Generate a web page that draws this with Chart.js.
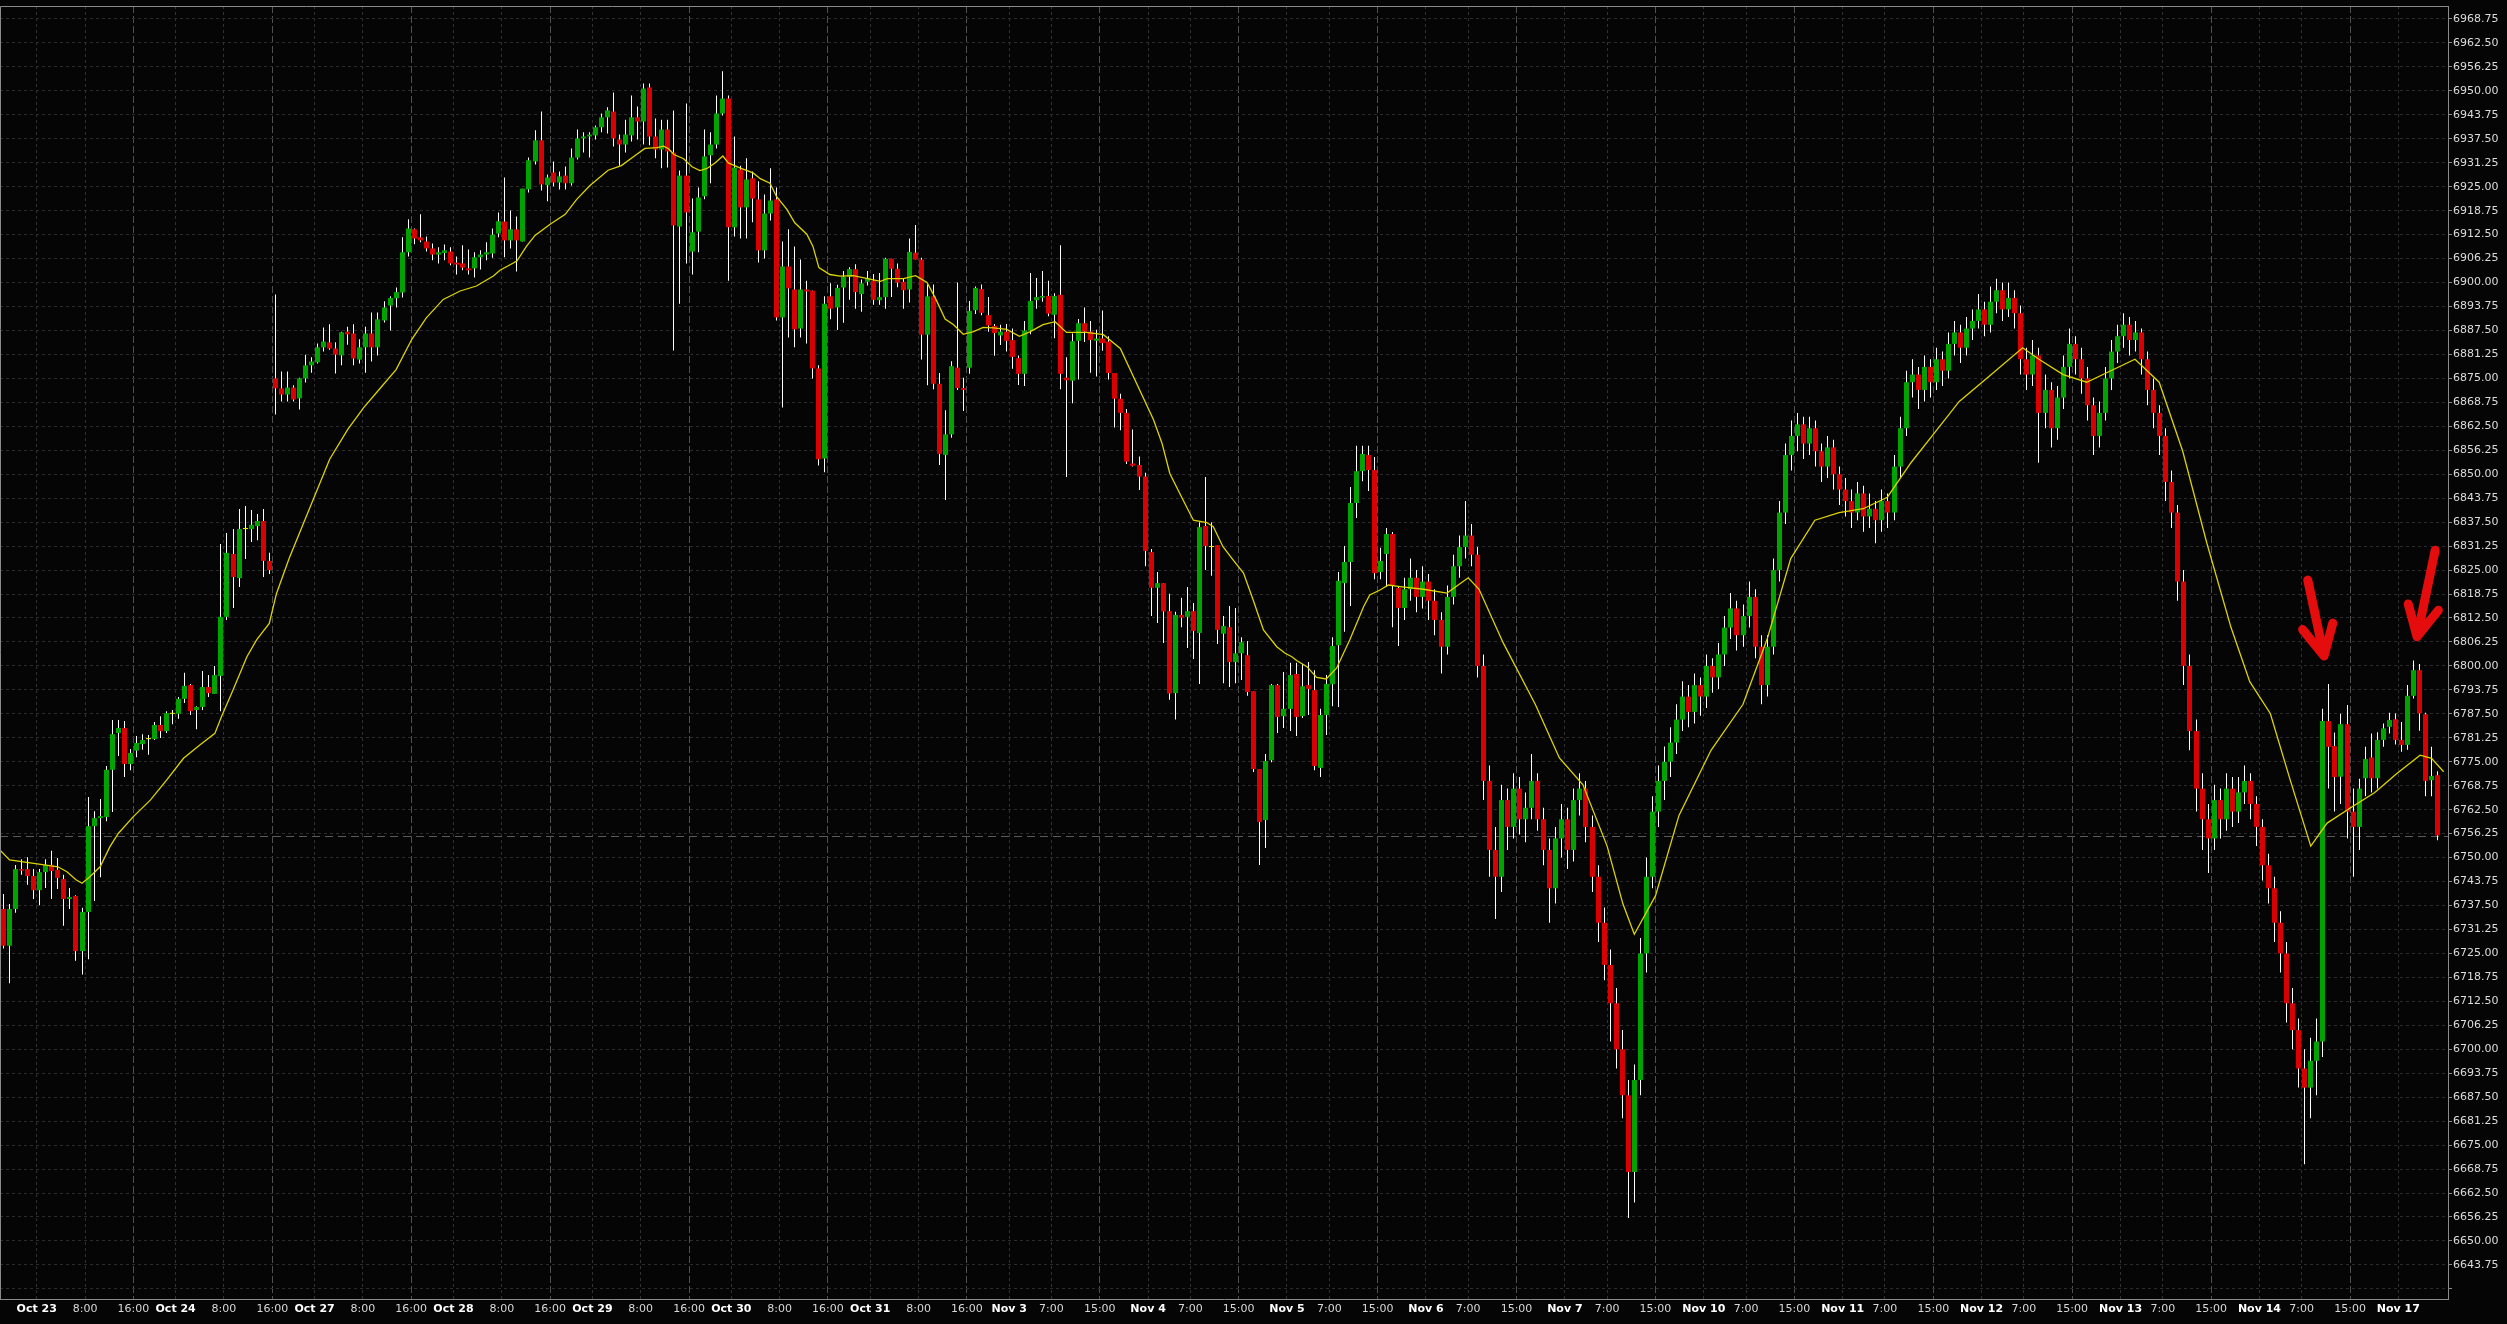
<!DOCTYPE html>
<html><head><meta charset="utf-8">
<script src="https://cdn.jsdelivr.net/npm/chart.js@4.4.1/dist/chart.umd.min.js"></script>
<style>html,body{margin:0;padding:0;background:#050505;overflow:hidden}canvas{display:block}</style>
</head><body>
<canvas id="c" width="2507" height="1324"></canvas>
<script>
const opens = [6736.6,6727.0,6736.6,6747.0,6747.0,6745.2,6741.5,6746.2,6748.1,6746.8,6744.4,6739.2,6740.0,6725.6,6735.8,6758.2,6760.3,6760.6,6772.9,6782.5,
6783.8,6774.4,6777.9,6779.6,6780.9,6780.9,6784.6,6783.0,6787.5,6787.5,6791.4,6795.0,6788.5,6789.3,6794.5,6792.7,6797.4,6812.8,6829.2,6822.9,
6835.7,6835.7,6836.5,6837.8,6827.4,6875.0,6872.4,6870.8,6872.6,6869.8,6875.0,6878.4,6879.2,6883.1,6884.4,6882.8,6881.0,6887.2,6886.7,6879.9,
6883.1,6886.7,6883.1,6890.1,6894.0,6895.9,6897.4,6907.9,6913.9,6911.8,6910.7,6908.9,6907.3,6907.7,6908.1,6905.2,6905.0,6903.7,6903.7,6906.6,
6907.3,6907.6,6912.8,6915.9,6911.0,6913.9,6910.7,6924.3,6931.6,6937.1,6925.4,6928.7,6926.1,6927.9,6925.9,6932.6,6937.6,6938.1,6938.4,6940.5,
6943.1,6944.6,6937.3,6936.0,6938.4,6943.1,6942.0,6950.9,6938.1,6934.7,6939.9,6933.9,6914.6,6927.9,6908.1,6913.3,6922.5,6933.2,6936.0,6944.1,
6948.0,6914.4,6929.5,6919.6,6927.2,6921.7,6908.4,6918.0,6921.7,6890.9,6904.2,6898.2,6888.0,6898.2,6897.9,6877.6,6854.1,6896.4,6893.5,6898.7,
6901.5,6903.5,6897.0,6900.2,6900.5,6895.4,6896.2,6906.2,6903.6,6900.2,6898.2,6907.8,6906.0,6886.4,6896.4,6873.6,6855.0,6860.4,6877.8,6872.5,
6877.8,6892.8,6898.3,6891.5,6888.7,6886.2,6887.2,6885.0,6880.3,6876.2,6887.5,6895.4,6896.1,6896.5,6891.6,6896.8,6875.2,6874.4,6884.8,6889.4,
6887.2,6884.8,6885.4,6884.6,6876.4,6869.7,6866.0,6852.8,6852.4,6849.4,6829.7,6820.4,6821.6,6814.3,6792.9,6813.3,6812.8,6814.3,6808.6,6836.5,
6831.0,6831.5,6808.4,6810.1,6801.0,6803.3,6802.8,6793.4,6773.1,6759.8,6775.4,6795.0,6786.9,6788.8,6797.9,6786.9,6795.0,6793.7,6773.4,6787.2,
6795.2,6805.4,6821.6,6827.1,6842.5,6850.8,6855.0,6851.1,6824.5,6829.2,6834.4,
6820.3,6815.1,6820.0,6823.0,6818.0,6822.0,6817.0,6812.0,6805.0,6818.0,
6826.0,6831.0,6834.0,6829.0,6800.0,6770.0,6752.0,6745.0,6765.0,6758.0,
6768.0,6760.0,6763.0,6770.0,6760.0,6752.0,6742.0,6755.0,6760.0,6752.0,
6765.0,6768.0,6758.0,6745.0,6733.0,6722.0,6712.0,6700.0,6688.0,6668.0,
6692.0,6725.0,6745.0,6762.0,6770.0,6775.0,6780.0,6786.0,6792.0,6788.0,
6795.0,6792.0,6800.0,6797.0,6803.0,6810.0,6815.0,6808.0,6813.0,6818.0,
6805.0,6795.0,6805.0,6825.0,6840.0,6855.0,6860.0,6863.0,6858.0,6862.0,
6856.0,6852.0,6857.0,6850.0,6846.0,6843.0,6840.0,6845.0,6839.0,6841.0,
6838.0,6843.0,6840.0,6852.0,6862.0,6874.0,6876.0,6872.0,6878.0,6874.0,
6880.0,6877.0,6884.0,6887.0,6883.0,6888.0,6890.0,6893.0,6889.0,6895.0,
6898.0,6893.0,6896.0,6892.0,6880.0,6876.0,6881.0,6866.0,6872.0,6862.0,
6870.0,6878.0,6884.0,6880.0,6875.0,6868.0,6860.0,6866.0,6875.0,6882.0,
6886.0,6889.0,6885.0,6887.0,6880.0,6872.0,6866.0,6860.0,6848.0,6840.0,
6822.0,6800.0,6783.0,6768.0,6760.0,6755.0,6765.0,6760.0,6768.0,6762.0,
6767.0,6770.0,6764.0,6758.0,6748.0,6742.0,6733.0,6725.0,6712.0,6705.0,
6695.0,6690.0,6697.0,6702.0,6785.6,6779.1,6771.1,6784.8,6762.0,6758.0,
6770.7,6776.1,6770.7,6780.7,6784.1,6786.1,6780.7,6779.4,6792.2,6798.9,
6787.4,6770.2,6771.5];
const highs = [6740.5,6737.9,6748.1,6749.6,6750.1,6747.0,6747.0,6749.6,6751.8,6749.9,6745.5,6742.1,6740.2,6736.9,6765.8,6762.1,6765.3,6773.9,6785.9,6785.9,
6785.6,6778.3,6781.7,6782.2,6782.0,6785.4,6786.9,6788.2,6788.5,6791.9,6798.2,6795.3,6789.5,6798.7,6797.6,6800.0,6831.8,6834.7,6835.7,6840.9,
6841.7,6840.7,6839.6,6840.9,6829.5,6896.9,6876.8,6876.8,6873.2,6875.2,6881.2,6880.5,6884.1,6888.3,6889.1,6884.4,6887.2,6888.5,6889.1,6885.2,
6888.5,6892.2,6892.2,6895.1,6896.4,6898.7,6911.8,6916.5,6914.1,6917.8,6912.0,6910.2,6909.2,6909.9,6909.2,6906.8,6909.7,6908.6,6907.9,6908.4,
6910.5,6914.1,6918.3,6927.4,6918.8,6917.2,6924.5,6932.6,6939.7,6944.6,6928.2,6931.6,6929.0,6930.3,6935.0,6939.9,6939.2,6939.2,6941.0,6944.1,
6945.7,6949.6,6938.6,6942.5,6948.8,6945.9,6951.9,6951.9,6942.8,6942.5,6942.5,6944.9,6929.2,6946.7,6921.9,6924.8,6939.9,6939.2,6948.8,6955.1,
6948.8,6938.1,6930.5,6932.4,6929.0,6926.4,6923.0,6929.8,6924.8,6910.7,6913.9,6909.4,6906.0,6900.5,6897.9,6878.4,6896.4,6899.8,6899.4,6903.0,
6904.0,6904.8,6900.8,6903.0,6902.2,6902.5,6906.5,6906.2,6905.0,6901.0,6911.5,6915.0,6906.5,6899.5,6899.5,6876.4,6866.7,6879.5,6900.0,6875.2,
6895.2,6899.0,6899.5,6896.2,6889.2,6889.0,6889.2,6888.0,6881.0,6890.0,6902.5,6901.2,6903.0,6900.5,6897.2,6909.7,6880.5,6886.7,6890.5,6893.5,
6890.0,6887.7,6892.7,6886.0,6876.4,6871.0,6867.0,6861.7,6854.6,6850.4,6830.5,6824.5,6821.6,6818.8,6814.1,6817.8,6820.6,6816.4,6837.5,6849.3,
6837.5,6831.5,6813.0,6815.6,6815.1,6807.5,6806.5,6793.4,6773.1,6777.0,6795.3,6795.3,6798.4,6800.8,6800.8,6800.5,6801.0,6798.9,6788.8,6797.6,
6807.5,6824.5,6831.3,6846.7,6857.4,6857.4,6857.4,6854.5,6830.8,6836.0,6834.9,
6820.6,6823.0,6828.0,6825.0,6826.0,6824.0,6820.0,6814.0,6821.0,6829.0,
6834.0,6843.0,6837.0,6831.0,6803.0,6774.0,6758.0,6769.0,6768.0,6772.0,
6771.0,6767.0,6777.0,6772.0,6763.0,6755.0,6758.0,6764.0,6763.0,6768.0,
6772.0,6770.0,6761.0,6748.0,6737.0,6726.0,6716.0,6705.0,6692.0,6696.0,
6729.0,6750.0,6766.0,6774.0,6779.0,6784.0,6790.0,6796.0,6795.0,6798.0,
6797.0,6803.0,6802.0,6806.0,6813.0,6819.0,6817.0,6816.0,6822.0,6820.0,
6808.0,6808.0,6828.0,6843.0,6858.0,6864.0,6866.0,6865.0,6865.0,6864.0,
6858.0,6860.0,6859.0,6852.0,6849.0,6846.0,6848.0,6847.0,6845.0,6843.0,
6846.0,6845.0,6855.0,6865.0,6877.0,6880.0,6878.0,6881.0,6880.0,6883.0,
6882.0,6887.0,6890.0,6889.0,6891.0,6893.0,6897.0,6895.0,6899.0,6901.0,
6900.0,6900.0,6898.0,6894.0,6883.0,6885.0,6883.0,6876.0,6874.0,6873.0,
6881.0,6888.0,6886.0,6883.0,6878.0,6870.0,6869.0,6878.0,6885.0,6889.0,
6892.0,6891.0,6890.0,6888.0,6882.0,6875.0,6868.0,6862.0,6851.0,6842.0,
6825.0,6803.0,6786.0,6772.0,6764.0,6769.0,6768.0,6772.0,6771.0,6771.0,
6774.0,6772.0,6766.0,6760.0,6751.0,6745.0,6736.0,6728.0,6716.0,6708.0,
6700.0,6703.0,6708.0,6788.8,6795.3,6782.6,6787.5,6789.8,6768.0,6770.6,
6778.9,6782.4,6782.7,6785.0,6787.8,6787.6,6785.4,6795.0,6801.4,6800.5,
6787.8,6778.9,6772.5];
const lows = [6726.3,6717.2,6735.6,6745.5,6742.9,6739.2,6737.6,6742.1,6739.2,6741.8,6732.2,6736.6,6723.1,6719.5,6723.5,6738.7,6744.9,6759.5,6761.9,6776.5,
6771.0,6772.8,6776.2,6778.1,6776.8,6780.7,6781.2,6782.5,6784.8,6786.2,6790.3,6787.2,6783.5,6788.5,6791.9,6792.7,6788.2,6812.0,6815.1,6820.6,
6827.9,6832.3,6832.8,6823.2,6824.0,6865.6,6869.0,6869.0,6869.0,6866.9,6873.9,6876.5,6878.9,6882.0,6882.5,6876.3,6878.4,6883.8,6878.4,6878.9,
6876.5,6879.4,6881.0,6889.6,6887.5,6893.5,6896.1,6906.8,6910.0,6910.5,6908.1,6905.8,6905.0,6905.8,6904.5,6902.1,6903.2,6902.1,6901.3,6903.4,
6905.8,6906.5,6911.8,6906.6,6908.9,6902.9,6910.7,6923.5,6930.8,6924.0,6921.2,6925.1,6924.3,6924.3,6925.3,6932.1,6933.9,6932.6,6937.3,6939.2,
6938.9,6935.5,6930.5,6933.9,6936.8,6937.3,6936.0,6935.8,6932.4,6929.8,6930.0,6882.3,6894.5,6905.0,6902.1,6907.9,6921.7,6925.9,6935.0,6943.6,
6900.5,6912.0,6911.5,6911.5,6915.7,6905.2,6906.3,6916.2,6890.1,6867.4,6885.7,6883.1,6885.7,6884.1,6875.0,6852.3,6850.5,6890.4,6887.6,6889.5,
6895.5,6893.2,6892.4,6899.2,6894.2,6894.2,6893.2,6896.2,6898.8,6893.2,6894.8,6906.0,6879.9,6873.2,6872.2,6852.4,6843.3,6859.5,6872.0,6866.5,
6876.2,6891.8,6891.5,6887.2,6880.9,6883.7,6882.0,6877.5,6873.3,6873.0,6886.5,6893.2,6895.0,6891.2,6885.5,6872.2,6849.3,6868.5,6874.7,6884.5,
6876.5,6875.5,6882.2,6874.7,6862.2,6861.5,6852.7,6852.0,6845.9,6826.0,6813.0,6811.2,6806.0,6791.2,6786.0,6810.1,6804.7,6801.8,6795.3,6825.0,
6823.5,6805.7,6795.5,6794.5,6795.5,6796.3,6792.2,6772.3,6748.1,6752.5,6774.9,6782.5,6783.8,6783.0,6781.7,6786.4,6787.2,6772.8,6771.0,6782.0,
6789.5,6789.3,6808.9,6815.6,6838.6,6848.2,6845.6,6822.6,6822.6,6820.6,6810.1,
6805.2,6812.0,6817.0,6814.0,6815.0,6812.0,6808.0,6798.0,6803.0,6816.0,
6823.0,6828.0,6826.0,6797.0,6765.0,6745.0,6734.0,6741.0,6752.0,6755.0,
6756.0,6754.0,6760.0,6757.0,6748.0,6733.0,6738.0,6750.0,6747.0,6749.0,
6761.0,6754.0,6741.0,6728.0,6718.0,6702.0,6695.0,6682.0,6656.0,6660.0,
6688.0,6720.0,6742.0,6758.0,6765.0,6771.0,6777.0,6783.0,6784.0,6785.0,
6787.0,6789.0,6793.0,6794.0,6800.0,6807.0,6804.0,6805.0,6810.0,6802.0,
6790.0,6792.0,6803.0,6822.0,6837.0,6851.0,6856.0,6854.0,6855.0,6852.0,
6848.0,6849.0,6846.0,6842.0,6839.0,6836.0,6838.0,6835.0,6836.0,6832.0,
6835.0,6836.0,6838.0,6849.0,6860.0,6870.0,6867.0,6869.0,6870.0,6872.0,
6873.0,6875.0,6881.0,6879.0,6881.0,6885.0,6888.0,6886.0,6887.0,6892.0,
6890.0,6891.0,6888.0,6876.0,6872.0,6873.0,6853.0,6862.0,6857.0,6859.0,
6867.0,6875.0,6876.0,6871.0,6864.0,6855.0,6857.0,6864.0,6872.0,6879.0,
6883.0,6881.0,6882.0,6876.0,6868.0,6862.0,6855.0,6843.0,6836.0,6817.0,
6795.0,6778.0,6762.0,6752.0,6746.0,6752.0,6755.0,6757.0,6758.0,6759.0,
6764.0,6760.0,6753.0,6744.0,6738.0,6728.0,6720.0,6707.0,6700.0,6690.0,
6670.0,6682.0,6688.0,6698.0,6768.0,6762.0,6764.0,6755.0,6745.0,6752.0,
6766.0,6767.0,6768.0,6778.9,6782.4,6779.5,6777.6,6778.1,6791.5,6783.1,
6766.0,6766.0,6754.5];
const closes = [6727.0,6736.6,6747.0,6746.6,6745.2,6741.5,6746.2,6748.1,6746.5,6744.7,6739.2,6739.7,6725.6,6735.8,6758.2,6760.3,6760.8,6772.9,6782.2,6783.8,
6774.4,6777.3,6779.9,6780.7,6780.9,6784.6,6783.0,6787.7,6787.5,6791.4,6794.8,6788.2,6789.3,6794.5,6792.9,6797.6,6812.8,6829.5,6823.2,6835.7,
6835.7,6836.8,6837.8,6827.4,6825.0,6872.4,6870.8,6872.6,6869.5,6875.0,6878.4,6879.4,6883.1,6884.6,6882.8,6881.2,6887.0,6886.5,6880.2,6883.1,
6886.7,6883.1,6890.4,6893.5,6896.0,6897.5,6907.9,6914.1,6911.5,6911.0,6908.9,6907.3,6907.9,6908.4,6905.0,6904.7,6903.9,6903.2,6906.6,6907.3,
6907.9,6912.5,6916.0,6911.0,6913.9,6911.0,6924.5,6931.9,6937.1,6925.6,6927.4,6926.1,6927.7,6925.9,6932.6,6937.6,6938.1,6938.6,6940.5,6943.1,
6944.9,6937.6,6936.0,6938.6,6943.1,6942.0,6950.6,6938.1,6934.7,6939.9,6934.2,6914.9,6927.9,6918.3,6913.1,6922.2,6932.9,6936.0,6944.1,6948.0,
6914.4,6930.0,6919.6,6926.9,6921.9,6908.4,6918.0,6921.4,6890.9,6904.2,6898.5,6887.8,6898.2,6897.7,6877.6,6853.9,6894.5,6893.2,6898.6,6901.5,
6903.5,6897.5,6899.8,6901.2,6895.5,6896.2,6906.2,6903.6,6900.0,6898.0,6908.0,6906.0,6886.4,6896.4,6873.6,6855.3,6860.4,6878.2,6872.5,6872.0,
6892.6,6898.6,6892.1,6888.8,6886.8,6887.2,6884.8,6880.6,6876.2,6887.5,6895.2,6896.2,6896.5,6891.9,6896.5,6876.2,6874.5,6884.7,6889.4,6887.2,
6885.0,6885.4,6884.2,6876.4,6869.7,6866.0,6853.3,6852.2,6849.4,6830.0,6820.4,6821.6,6814.2,6792.8,6813.3,6812.6,6814.3,6809.1,6836.2,6831.3,
6831.0,6809.4,6810.4,6801.0,6803.3,6806.2,6793.2,6773.1,6759.3,6775.2,6795.0,6786.7,6788.8,6797.6,6786.7,6794.7,6794.0,6773.9,6787.2,6795.3,
6805.2,6822.2,6827.1,6842.5,6850.8,6855.3,6851.1,6824.2,6827.4,6834.4,6821.1,
6815.1,6820.0,6823.0,6818.0,6822.0,6817.0,6812.0,6805.0,6818.0,6826.0,
6831.0,6834.0,6829.0,6800.0,6770.0,6752.0,6745.0,6765.0,6758.0,6768.0,
6760.0,6763.0,6770.0,6760.0,6752.0,6742.0,6755.0,6760.0,6752.0,6765.0,
6768.0,6758.0,6745.0,6733.0,6722.0,6712.0,6700.0,6688.0,6668.0,6692.0,
6725.0,6745.0,6762.0,6770.0,6775.0,6780.0,6786.0,6792.0,6788.0,6795.0,
6792.0,6800.0,6797.0,6803.0,6810.0,6815.0,6808.0,6813.0,6818.0,6805.0,
6795.0,6805.0,6825.0,6840.0,6855.0,6860.0,6863.0,6858.0,6862.0,6856.0,
6852.0,6857.0,6850.0,6846.0,6843.0,6840.0,6845.0,6839.0,6841.0,6838.0,
6843.0,6840.0,6852.0,6862.0,6874.0,6876.0,6872.0,6878.0,6874.0,6880.0,
6877.0,6884.0,6887.0,6883.0,6888.0,6890.0,6893.0,6889.0,6895.0,6898.0,
6893.0,6896.0,6892.0,6880.0,6876.0,6881.0,6866.0,6872.0,6862.0,6870.0,
6878.0,6884.0,6880.0,6875.0,6868.0,6860.0,6866.0,6875.0,6882.0,6886.0,
6889.0,6885.0,6887.0,6880.0,6872.0,6866.0,6860.0,6848.0,6840.0,6822.0,
6800.0,6783.0,6768.0,6760.0,6755.0,6765.0,6760.0,6768.0,6762.0,6767.0,
6770.0,6764.0,6758.0,6748.0,6742.0,6733.0,6725.0,6712.0,6705.0,6695.0,
6690.0,6697.0,6702.0,6785.6,6778.9,6771.0,6784.8,6762.0,6758.0,6768.0,
6775.7,6770.7,6780.7,6783.7,6785.9,6780.7,6779.4,6792.2,6798.9,6787.6,
6770.0,6771.3,6755.8];

const maBars = [-0.6,1,5,9,10.5,12,13,14.3,16,17.6,19,21.5,24.3,27,29.8,32.5,35,36.1,38,40.3,41.9,44,45.2,47.3,54,57,59.6,62.4,65,67.6,70,72.8,75.6,78.3,81.1,82.2,85,86.6,88,90.5,93,94.9,97.1,100.1,102.3,104.8,106.2,108.2,109.3,110.1,111,112.6,114,115.3,116.4,117.8,119.1,120,121.9,124.1,125.3,126.9,128,129.7,131,133,134,135,136.8,138.5,140.7,145.2,146.3,149,151,152.9,154.2,155.9,157.3,158.9,160.6,162.2,163.9,166.1,168.2,170,172.1,174.1,176,179.3,182.1,184.9,190.4,191.8,193.1,195,197,199.2,200.3,201.9,203.6,205.3,206.9,208.6,210.8,212.2,213.3,214.1,215.8,217.4,219,220.7,222.9,225.2,226.2,227.9,229.3,231.2,
235.1,239.0,242.5,244.3,248.3,253.6,257.6,261.5,265.5,268.1,270.0,273.5,277.4,282.7,288.0,292.0,295.9,299.9,303.9,307.9,311.9,315.8,319.8,323.8,329.1,334.3,337.0,341.0,344.9,348.9,352.9,356.9,360.8,364.8,368.8,371.9,375.3,378.6,382.0,384.7,388.6,392.6,396.2,400.1,402.0,404.0];
const maValues = [6752.0,6749.4,6748.5,6747.6,6746.3,6744.2,6743.3,6745.0,6747.6,6752.8,6756.3,6760.7,6765.0,6770.2,6775.9,6779.4,6782.4,6786.8,6793.7,6802.4,6806.8,6811.1,6818.9,6828.1,6853.9,6861.7,6867.3,6872.5,6877.3,6885.2,6890.8,6895.6,6897.8,6899.1,6901.7,6903.2,6905.6,6909.5,6912.3,6915.2,6917.8,6921.7,6925.3,6929.3,6930.5,6933.4,6935.0,6935.2,6935.6,6934.9,6933.4,6932.3,6930.2,6929.2,6929.7,6931.2,6933.0,6931.2,6929.9,6928.6,6927.1,6925.9,6922.4,6919.1,6915.6,6912.6,6909.5,6903.9,6902.1,6901.7,6901.8,6900.3,6901.0,6901.0,6901.8,6900.0,6896.2,6890.5,6889.0,6886.5,6887.2,6888.3,6888.2,6887.8,6886.0,6887.2,6889.0,6889.8,6887.0,6887.0,6886.4,6882.8,6864.2,6858.1,6850.2,6844.2,6838.0,6837.4,6836.3,6831.1,6827.6,6824.2,6817.2,6809.4,6805.0,6803.3,6802.4,6801.4,6799.8,6797.0,6796.6,6799.4,6806.8,6815.5,6818.5,6819.8,6821.1,6820.7,
6820.0,6819.0,6823.0,6820.0,6806.0,6790.0,6776.0,6769.0,6753.0,6738.0,6730.0,6740.0,6761.0,6778.0,6790.0,6807.0,6828.0,6838.0,6840.0,6841.0,6844.0,6853.0,6861.0,6869.0,6876.0,6883.0,6880.0,6876.0,6874.0,6877.0,6880.0,6874.0,6856.0,6832.0,6810.0,6795.9,6787.6,6770.2,6753.0,6759.0,6763.0,6767.0,6771.9,6776.7,6775.9,6772.4];

const lastPrice = 6755.5;
const xTickBars = [6,14,22,29,37,45,52,60,68,75,83,91,98,106,114,121,129,137,144,152,160,167,174,182,190,197,205,213,220,228,236,243,251,259,266,274,282,289,297,305,312,320,328,335,343,351,358,366,374,381,389,397];
const xTickLabels = ['Oct 23','8:00','16:00','Oct 24','8:00','16:00','Oct 27','8:00','16:00','Oct 28','8:00','16:00','Oct 29','8:00','16:00','Oct 30','8:00','16:00','Oct 31','8:00','16:00','Nov 3','7:00','15:00','Nov 4','7:00','15:00','Nov 5','7:00','15:00','Nov 6','7:00','15:00','Nov 7','7:00','15:00','Nov 10','7:00','15:00','Nov 11','7:00','15:00','Nov 12','7:00','15:00','Nov 13','7:00','15:00','Nov 14','7:00','15:00','Nov 17'];
const arrowTails = [[381.5, 6822.4],[402.6, 6830.2]];
const arrowTips = [[384.2, 6802.6],[399.6, 6807.6]];

const X_MIN = -0.58, X_MAX = 404.72, Y_MIN = 6634.86, Y_MAX = 6972.14;
const GREEN = '#00a300', RED = '#d80000', DOJI = '#f0f000';

const bodyData = opens.map((o, i) => ({x: i, y: [o, closes[i]]}));
const bodyColors = opens.map((o, i) => closes[i] > o ? GREEN : (closes[i] < o ? RED : DOJI));
const wickData = lows.map((l, i) => ({x: i, y: [l, highs[i]]}));
const maData = maBars.map((b, i) => ({x: b, y: maValues[i]}));

const isDate = l => /[A-Za-z]/.test(l);
const isSession = l => l === '16:00' || l === '15:00';

const framePlugin = {
  id: 'frame',
  beforeDraw(chart) {
    const {ctx, width, height} = chart;
    ctx.save(); ctx.fillStyle = '#050505'; ctx.fillRect(0, 0, width, height); ctx.restore();
  },
  afterDraw(chart) {
    const {ctx, chartArea: a} = chart;
    ctx.save();
    ctx.strokeStyle = '#8a8a8a'; ctx.lineWidth = 1;
    ctx.beginPath();
    ctx.moveTo(a.left + 0.5, a.bottom); ctx.lineTo(a.left + 0.5, a.top + 0.5); ctx.lineTo(a.right, a.top + 0.5);
    ctx.stroke();
    ctx.restore();
  }
};

// snap candle bodies and wicks to whole device pixels so they render crisp
const snapPlugin = {
  id: 'snap',
  afterDatasetsUpdate(chart) {
    [1, 2].forEach(di => {
      chart.getDatasetMeta(di).data.forEach(el => { el.x = Math.round(el.x - 0.5) + 0.5; });
    });
  }
};

const arrowPlugin = {
  id: 'arrows',
  afterDraw(chart) {
    const {ctx, scales: {x, y}} = chart;
    ctx.save();
    ctx.strokeStyle = '#e40c0c'; ctx.lineWidth = 9; ctx.lineCap = 'round'; ctx.lineJoin = 'round';
    arrowTails.forEach((t, i) => {
      const x1 = x.getPixelForValue(t[0]), y1 = y.getPixelForValue(t[1]);
      const x2 = x.getPixelForValue(arrowTips[i][0]), y2 = y.getPixelForValue(arrowTips[i][1]);
      const ang = Math.atan2(y1 - y2, x1 - x2);
      ctx.beginPath();
      ctx.moveTo(x1, y1); ctx.lineTo(x2, y2);
      [-1, 1].forEach(s => {
        ctx.moveTo(x2, y2);
        ctx.lineTo(x2 + 34 * Math.cos(ang + s * 0.47), y2 + 34 * Math.sin(ang + s * 0.47));
      });
      ctx.stroke();
    });
    ctx.restore();
  }
};

new Chart(document.getElementById('c'), {
  type: 'bar',
  data: {
    datasets: [
      {type: 'line', data: maData, borderColor: '#dcd400', borderWidth: 1.3, pointRadius: 0, tension: 0, order: 0},
      {type: 'bar', data: bodyData, backgroundColor: bodyColors, barThickness: 5, minBarLength: 1, inflateAmount: 0, grouped: false, order: 1},
      {type: 'bar', data: wickData, backgroundColor: '#ffffff', barThickness: 1, inflateAmount: 0, grouped: false, order: 2},
      {type: 'line', data: [{x: X_MIN, y: lastPrice}, {x: X_MAX, y: lastPrice}], borderColor: '#5a5a5a', borderWidth: 1, borderDash: [8, 5], pointRadius: 0, order: 3}
    ]
  },
  options: {
    responsive: false, animation: false, devicePixelRatio: 1,
    layout: {padding: {top: 6, left: 0, right: 0, bottom: 0}},
    plugins: {legend: {display: false}, tooltip: {enabled: false}},
    scales: {
      x: {
        type: 'linear', min: X_MIN, max: X_MAX, offset: false,
        afterBuildTicks: s => { s.ticks = xTickBars.map(b => ({value: b - 0.5})); },
        afterFit: s => { s.height = 25; s.paddingLeft = 0; s.paddingRight = 0; },
        ticks: {
          autoSkip: false, maxRotation: 0, minRotation: 0, padding: 4,
          callback: (v, i) => xTickLabels[i],
          color: c => isDate(xTickLabels[c.index] || '') ? '#ffffff' : '#d8d8d8',
          font: c => ({family: 'DejaVu Sans', size: 11, weight: isDate(xTickLabels[c.index] || '') ? 'bold' : 'normal'})
        },
        grid: {
          offset: false, drawTicks: false, lineWidth: 1,
          color: c => (c.tick && isSession(xTickLabels[c.index])) ? '#505050' : '#313131'
        },
        border: {
          display: true, color: '#8a8a8a', width: 1,
          dash: c => (c.tick && isSession(xTickLabels[c.index])) ? [7, 3] : [3, 3]
        }
      },
      y: {
        position: 'right', min: Y_MIN, max: Y_MAX,
        afterBuildTicks: s => { const t = []; for (let k = 0; k <= 53; k++) t.push({value: 6637.5 + 6.25 * k}); s.ticks = t; },
        afterFit: s => { s.width = 59; s.paddingTop = 0; s.paddingBottom = 0; },
        ticks: {
          autoSkip: false, padding: 1, color: '#dcdcdc',
          font: {family: 'DejaVu Sans', size: 11},
          callback: v => v < 6640 ? '' : Number(v).toFixed(2)
        },
        grid: {color: '#2c2c2c', lineWidth: 1, drawTicks: true, tickLength: 4, tickColor: '#8a8a8a'},
        border: {display: true, color: '#8a8a8a', width: 1, dash: [3, 3]}
      }
    }
  },
  plugins: [framePlugin, snapPlugin, arrowPlugin]
});
</script>
</body></html>
